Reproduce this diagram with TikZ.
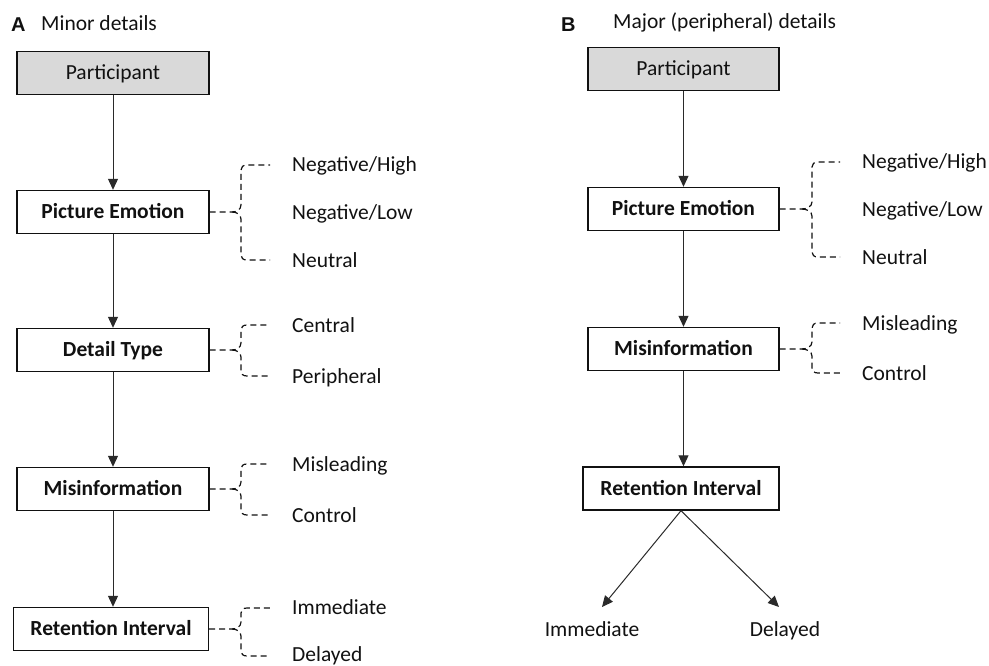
\documentclass[tikz,border=0pt]{standalone}
\usepackage{fontspec}
\setmainfont{Carlito}
\newfontfamily\titlefont{Liberation Sans}
\usetikzlibrary{arrows.meta}
\definecolor{boxgray}{HTML}{D9D9D9}
\definecolor{ink}{HTML}{111111}
\definecolor{linegray}{HTML}{2A2A2A}
\newcommand\bracegrp[7]{%
  \draw[brc] (#1.east) -- (#2,#6) .. controls (#2+4,#6) and (#3,#6-2) .. (#3,#6-7) -- (#3,#5+5) .. controls (#3,#5+2) and (#3+2,#5) .. (#3+6,#5) -- (#4,#5);
  \draw[brc] (#2,#6) .. controls (#2+4,#6) and (#3,#6+2) .. (#3,#6+7) -- (#3,#7-5) .. controls (#3,#7-2) and (#3+2,#7) .. (#3+6,#7) -- (#4,#7);
}
\begin{document}
\begin{tikzpicture}[x=1pt,y=-1pt,
  every node/.style={text=ink, font=\fontsize{21.5}{25}\selectfont},
  boxnode/.style={draw=ink, line width=1.4pt, fill=white, minimum height=43pt, inner sep=0pt, text height=13.5pt, text depth=0pt, font=\fontsize{21.5}{25}\selectfont\bfseries},
  partbox/.style={boxnode, fill=boxgray, font=\fontsize{21.5}{25}\selectfont},
  lbl/.style={anchor=base west, inner sep=0pt},
  ttl/.style={anchor=base west, inner sep=0pt},
  brc/.style={draw=ink, line width=1.2pt, dash pattern=on 6pt off 4pt},
  arr/.style={draw=linegray, line width=1pt, -{Triangle[length=11pt,width=10pt]}}
]
\useasboundingbox (0,0) rectangle (989,666);

% ---------- Panel A ----------
\node[ttl, font=\titlefont\fontsize{20}{22}\selectfont\bfseries] (tA) at (11,32) {A};
\node[ttl] (tAt) at (41,31) {Minor details};

\node[partbox, minimum width=192pt] (pA) at (113,73) {Participant};
\node[boxnode, minimum width=192pt] (eA) at (113,212) {Picture Emotion};
\node[boxnode, minimum width=192pt] (dA) at (113,350) {Detail Type};
\node[boxnode, minimum width=192pt] (mA) at (113,489) {Misinformation};
\node[boxnode, minimum width=195pt] (rA) at (111,629) {Retention Interval};

\draw[arr] (pA.south) -- (eA.north);
\draw[arr] (eA.south) -- (dA.north);
\draw[arr] (dA.south) -- (mA.north);
\draw[arr] (mA.south) -- (mA.south |- rA.north);

\bracegrp{eA}{232}{241}{270}{165}{212}{260}
\node[lbl] (e1A) at (292,172) {Negative/High};
\node[lbl] (e2A) at (292,220) {Negative/Low};
\node[lbl] (e3A) at (292,268) {Neutral};

\bracegrp{dA}{232}{241}{270}{325}{350}{376}
\node[lbl] (d1A) at (292,332) {Central};
\node[lbl] (d2A) at (292,383) {Peripheral};

\bracegrp{mA}{232}{241}{270}{464}{489}{515}
\node[lbl] (m1A) at (292,471) {Misleading};
\node[lbl] (m2A) at (292,522) {Control};

\bracegrp{rA}{232}{241}{270}{608}{629}{656}
\node[lbl] (r1A) at (292,614) {Immediate};
\node[lbl] (r2A) at (292,661) {Delayed};

% ---------- Panel B ----------
\node[ttl, font=\titlefont\fontsize{20}{22}\selectfont\bfseries] (tB) at (561,32) {B};
\node[ttl] (tBt) at (613,29) {Major (peripheral) details};

\node[partbox, minimum width=191pt] (pB) at (683.5,69) {Participant};
\node[boxnode, minimum width=191pt] (eB) at (683.5,209) {Picture Emotion};
\node[boxnode, minimum width=191pt] (mB) at (683.5,349) {Misinformation};
\node[boxnode, minimum width=196pt] (rB) at (681,488.5) {Retention Interval};

\draw[arr] (pB.south) -- (eB.north);
\draw[arr] (eB.south) -- (mB.north);
\draw[arr] (mB.south) -- (mB.south |- rB.north);

\bracegrp{eB}{802}{812}{840}{162}{209}{257}
\node[lbl] (e1B) at (862,169) {Negative/High};
\node[lbl] (e2B) at (862,217) {Negative/Low};
\node[lbl] (e3B) at (862,265) {Neutral};

\bracegrp{mB}{802}{812}{840}{323}{349}{373}
\node[lbl] (m1B) at (862,330) {Misleading};
\node[lbl] (m2B) at (862,380) {Control};

\node[anchor=base, inner sep=0pt] (iB) at (592,636) {Immediate};
\node[anchor=base, inner sep=0pt] (yB) at (785,636) {Delayed};
\coordinate (tipI) at (602,607);
\coordinate (tipD) at (779,607);
\draw[arr] (rB.south) -- (tipI);
\draw[arr] (rB.south) -- (tipD);
\end{tikzpicture}
\end{document}
